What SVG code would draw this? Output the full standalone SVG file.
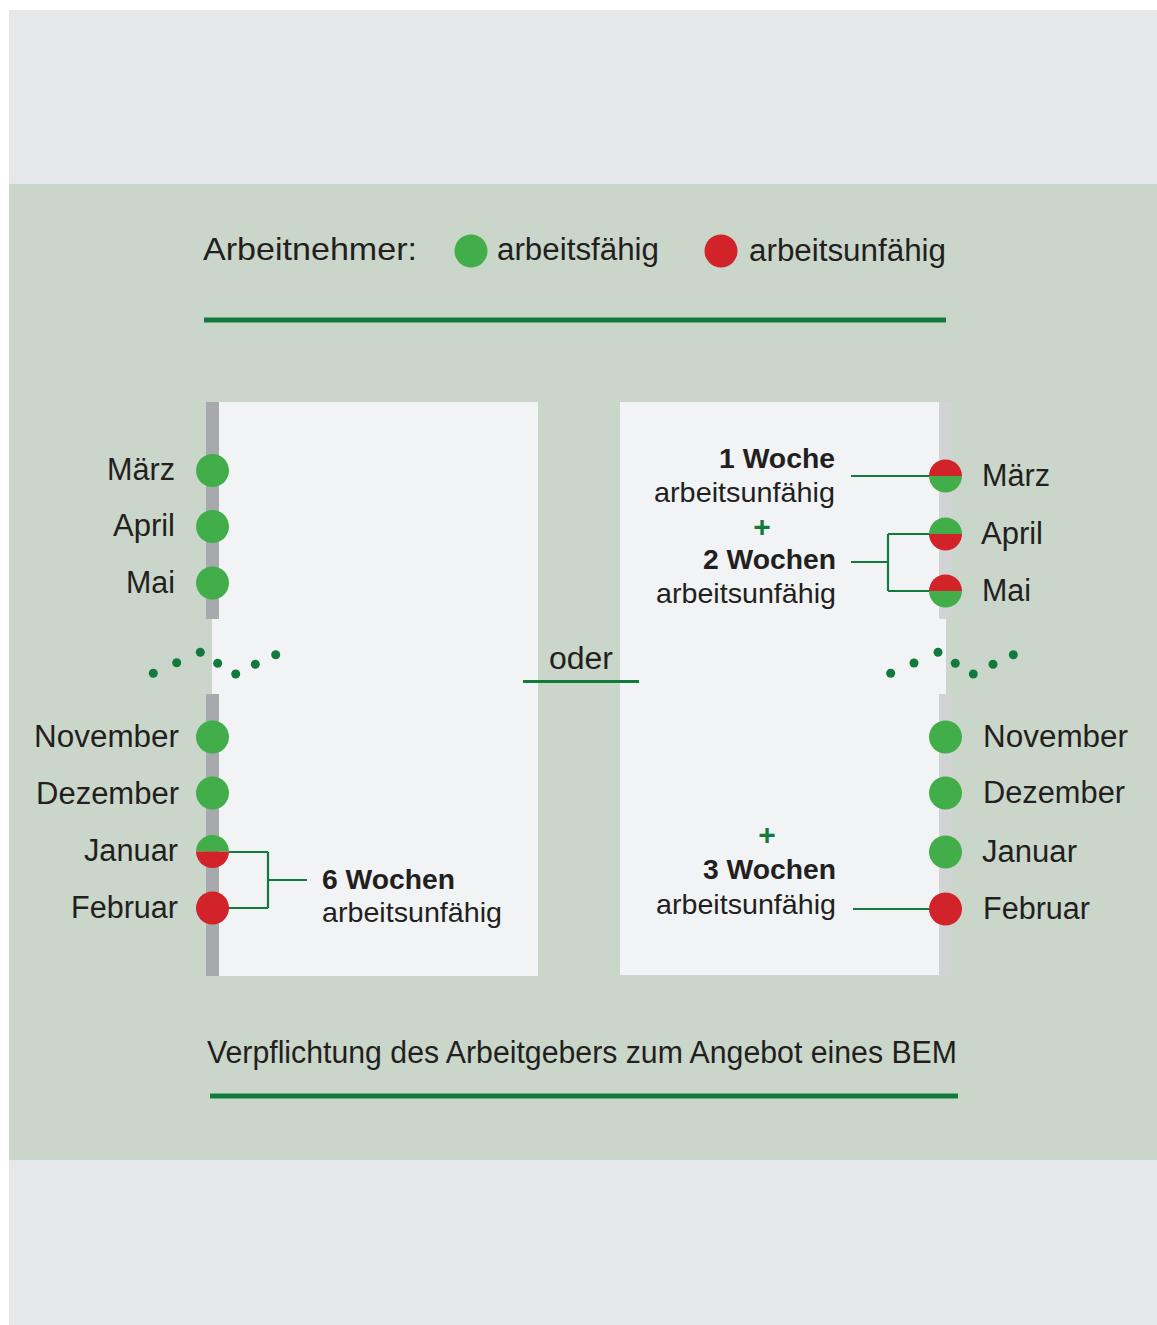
<svg xmlns="http://www.w3.org/2000/svg" width="1157" height="1325" viewBox="0 0 1157 1325">
<style>
text{font-family:"Liberation Sans",Arial,"DejaVu Sans",sans-serif;fill:#231f20}
.m{font-size:31px}
.h{font-size:31px}
.b{font-size:28.5px}
.bb{font-size:28.5px;font-weight:bold}
.plus{font-size:30px;font-weight:bold;fill:#137a3e}
.g{fill:#41ae4a}
.r{fill:#d2232a}
.ln{stroke:#137a3e;stroke-width:2.2;fill:none}
.dot{fill:#137a3e}
</style>
<rect x="0" y="0" width="1157" height="1325" fill="#ffffff"/>
<rect x="9" y="10" width="1148" height="1315" fill="#e6e7e8"/>
<rect x="9" y="184" width="1148" height="976" fill="#cad6ca"/>

<g id="legend">
<text x="203" y="260" style="font-size:32px" textLength="214" lengthAdjust="spacingAndGlyphs">Arbeitnehmer:</text>
<circle class="g" cx="471" cy="251" r="16.5"/>
<text class="h" x="497" y="260" textLength="162" lengthAdjust="spacingAndGlyphs">arbeitsfähig</text>
<circle class="r" cx="721" cy="251" r="16.5"/>
<text class="h" x="749" y="261" textLength="197" lengthAdjust="spacingAndGlyphs">arbeitsunfähig</text>
<rect x="204" y="317.5" width="742" height="5" fill="#137a3e"/>
</g>

<g id="panel-left">
<rect x="212" y="402" width="326" height="574" fill="#f1f3f5"/>
<rect x="206" y="402" width="13" height="217" fill="#a7a9ac"/>
<rect x="206" y="694" width="13" height="282" fill="#a7a9ac"/>
</g>
<g id="panel-right">
<rect x="620" y="402" width="326" height="573" fill="#f1f3f5"/>
<rect x="939" y="402" width="13" height="217" fill="#d1d3d4"/>
<rect x="939" y="694" width="13" height="282" fill="#d1d3d4"/>
</g>

<g id="connectors">
<path class="ln" d="M229,852 H268 M229,908 H268 M268,852 V908 M268,880 H307"/>
<path class="ln" d="M851,476 H930"/>
<path class="ln" d="M851,562 H888 M888,534 V591 M888,534 H930 M888,591 H930"/>
<path class="ln" d="M853,909 H930"/>
<path d="M523,681.5 H639" stroke="#137a3e" stroke-width="3" fill="none"/>
</g>

<g id="left-months">
<g id="l-maerz"><circle class="g" cx="212.5" cy="470.5" r="16.5"/><text class="m" x="175" y="480" text-anchor="end" textLength="68" lengthAdjust="spacingAndGlyphs">März</text></g>
<g id="l-april"><circle class="g" cx="212.5" cy="526.5" r="16.5"/><text class="m" x="175" y="536" text-anchor="end" textLength="62" lengthAdjust="spacingAndGlyphs">April</text></g>
<g id="l-mai"><circle class="g" cx="212.5" cy="583" r="16.5"/><text class="m" x="175" y="593" text-anchor="end" textLength="49" lengthAdjust="spacingAndGlyphs">Mai</text></g>
<g id="l-november"><circle class="g" cx="212.5" cy="737" r="16.5"/><text class="m" x="179" y="747" text-anchor="end" textLength="145" lengthAdjust="spacingAndGlyphs">November</text></g>
<g id="l-dezember"><circle class="g" cx="212.5" cy="793" r="16.5"/><text class="m" x="179" y="804" text-anchor="end" textLength="143" lengthAdjust="spacingAndGlyphs">Dezember</text></g>
<g id="l-januar"><path class="g" d="M196,851.5 A16.5,16.5 0 0 1 229,851.5 Z"/><path class="r" d="M196,851.5 A16.5,16.5 0 0 0 229,851.5 Z"/><text class="m" x="178" y="861" text-anchor="end" textLength="94" lengthAdjust="spacingAndGlyphs">Januar</text></g>
<g id="l-februar"><circle class="r" cx="212.5" cy="908" r="16.5"/><text class="m" x="178" y="918" text-anchor="end" textLength="107" lengthAdjust="spacingAndGlyphs">Februar</text></g>
</g>

<g id="left-ellipsis">
<circle class="dot" cx="153.3" cy="673.3" r="4.5"/>
<circle class="dot" cx="176.7" cy="662.7" r="4.5"/>
<circle class="dot" cx="200.3" cy="652.3" r="4.5"/>
<circle class="dot" cx="217.7" cy="663.3" r="4.5"/>
<circle class="dot" cx="235.7" cy="674" r="4.5"/>
<circle class="dot" cx="255.3" cy="664.3" r="4.5"/>
<circle class="dot" cx="275.7" cy="654.7" r="4.5"/>
</g>

<g id="right-months">
<g id="r-maerz"><path class="r" d="M929,476 A16.5,16.5 0 0 1 962,476 Z"/><path class="g" d="M929,476 A16.5,16.5 0 0 0 962,476 Z"/><text class="m" x="982" y="486" textLength="68" lengthAdjust="spacingAndGlyphs">März</text></g>
<g id="r-april"><path class="g" d="M929,534 A16.5,16.5 0 0 1 962,534 Z"/><path class="r" d="M929,534 A16.5,16.5 0 0 0 962,534 Z"/><text class="m" x="981" y="544" textLength="62" lengthAdjust="spacingAndGlyphs">April</text></g>
<g id="r-mai"><path class="r" d="M929,591 A16.5,16.5 0 0 1 962,591 Z"/><path class="g" d="M929,591 A16.5,16.5 0 0 0 962,591 Z"/><text class="m" x="982" y="601" textLength="49" lengthAdjust="spacingAndGlyphs">Mai</text></g>
<g id="r-november"><circle class="g" cx="945.5" cy="737" r="16.5"/><text class="m" x="983" y="747" textLength="145" lengthAdjust="spacingAndGlyphs">November</text></g>
<g id="r-dezember"><circle class="g" cx="945.5" cy="793" r="16.5"/><text class="m" x="983" y="803" textLength="142" lengthAdjust="spacingAndGlyphs">Dezember</text></g>
<g id="r-januar"><circle class="g" cx="945.5" cy="852" r="16.5"/><text class="m" x="982" y="862" textLength="95" lengthAdjust="spacingAndGlyphs">Januar</text></g>
<g id="r-februar"><circle class="r" cx="945.5" cy="909" r="16.5"/><text class="m" x="983" y="919" textLength="107" lengthAdjust="spacingAndGlyphs">Februar</text></g>
</g>

<g id="right-ellipsis">
<circle class="dot" cx="890.7" cy="673.3" r="4.5"/>
<circle class="dot" cx="914" cy="663" r="4.5"/>
<circle class="dot" cx="938" cy="652.3" r="4.5"/>
<circle class="dot" cx="955.3" cy="663.3" r="4.5"/>
<circle class="dot" cx="973.3" cy="674" r="4.5"/>
<circle class="dot" cx="993" cy="664.3" r="4.5"/>
<circle class="dot" cx="1013.3" cy="654.7" r="4.5"/>
</g>

<g id="label-6wochen">
<text class="bb" x="322" y="889" textLength="133" lengthAdjust="spacingAndGlyphs">6 Wochen</text>
<text class="b" x="322" y="922" textLength="180" lengthAdjust="spacingAndGlyphs">arbeitsunfähig</text>
</g>
<g id="label-1woche">
<text class="bb" x="835" y="468" text-anchor="end" textLength="116" lengthAdjust="spacingAndGlyphs">1 Woche</text>
<text class="b" x="835" y="502" text-anchor="end" textLength="181" lengthAdjust="spacingAndGlyphs">arbeitsunfähig</text>
</g>
<text class="plus" x="762" y="537" text-anchor="middle">+</text>
<g id="label-2wochen">
<text class="bb" x="836" y="569" text-anchor="end" textLength="133" lengthAdjust="spacingAndGlyphs">2 Wochen</text>
<text class="b" x="836" y="603" text-anchor="end" textLength="180" lengthAdjust="spacingAndGlyphs">arbeitsunfähig</text>
</g>
<text class="plus" x="767" y="845" text-anchor="middle">+</text>
<g id="label-3wochen">
<text class="bb" x="836" y="879" text-anchor="end" textLength="133" lengthAdjust="spacingAndGlyphs">3 Wochen</text>
<text class="b" x="836" y="914" text-anchor="end" textLength="180" lengthAdjust="spacingAndGlyphs">arbeitsunfähig</text>
</g>

<g id="oder">
<text class="m" x="549" y="669" textLength="64" lengthAdjust="spacingAndGlyphs">oder</text>
</g>

<g id="footer">
<text x="207" y="1063" style="font-size:31px" textLength="750" lengthAdjust="spacingAndGlyphs">Verpflichtung des Arbeitgebers zum Angebot eines BEM</text>
<rect x="210" y="1093.5" width="748" height="5" fill="#137a3e"/>
</g>
</svg>
